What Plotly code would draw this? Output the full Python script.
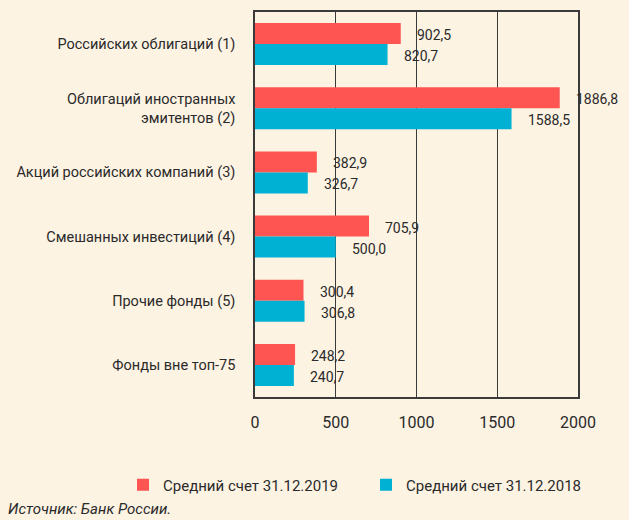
import plotly.graph_objects as go

categories = [
    "Российских облигаций (1)",
    "Облигаций иностранных<br>эмитентов (2)",
    "Акций российских компаний (3)",
    "Смешанных инвестиций (4)",
    "Прочие фонды (5)",
    "Фонды вне топ-75",
]
values_2019 = [902.5, 1886.8, 382.9, 705.9, 300.4, 248.2]
values_2018 = [820.7, 1588.5, 326.7, 500.0, 306.8, 240.7]
series_names = ["Средний счет 31.12.2019", "Средний счет 31.12.2018"]
x_ticks = [0, 500, 1000, 1500, 2000]

RED = "#fe5552"
BLUE = "#00b1d3"
BG = "#fdf3e3"
TXT = "#2a2a2a"
FONT = "Roboto"

W, H = 629, 520
ML, MR, MT, MB = 255, 51, 12, 123
PW, PH = W - ML - MR, H - MT - MB

fig = go.Figure()
fig.add_trace(go.Bar(y=categories, x=values_2019, orientation="h", name=series_names[0],
                     marker=dict(color=RED, line=dict(width=0))))
fig.add_trace(go.Bar(y=categories, x=values_2018, orientation="h", name=series_names[1],
                     marker=dict(color=BLUE, line=dict(width=0))))

def fmt(v):
    return f"{v:.1f}".replace(".", ",")

ann = []
for c, v in zip(categories, values_2019):
    ann.append(dict(x=v, y=c, xref="x", yref="y", text=fmt(v), showarrow=False,
                    xanchor="left", yanchor="middle", xshift=14, yshift=9,
                    font=dict(family=FONT, size=14, color=TXT)))
for c, v in zip(categories, values_2018):
    ann.append(dict(x=v, y=c, xref="x", yref="y", text=fmt(v), showarrow=False,
                    xanchor="left", yanchor="middle", xshift=14, yshift=-12,
                    font=dict(family=FONT, size=14, color=TXT)))
ann.append(dict(x=(6 - ML) / PW, y=-(509 - (H - MB)) / PH, xref="paper", yref="paper",
                text="<i>Источник: Банк России.</i>", showarrow=False,
                xanchor="left", yanchor="middle",
                font=dict(family=FONT, size=15, color=TXT)))

fig.update_layout(
    width=W, height=H,
    margin=dict(l=ML, r=MR, t=MT, b=MB, autoexpand=False),
    paper_bgcolor=BG, plot_bgcolor=BG,
    barmode="group", bargap=0.345, bargroupgap=0,
    font=dict(family=FONT, color=TXT),
    showlegend=True,
    legend=dict(orientation="h", xref="paper", yref="paper",
                x=(123 - ML) / PW, y=-(485 - (H - MB)) / PH,
                xanchor="left", yanchor="middle",
                font=dict(family=FONT, size=15, color=TXT),
                entrywidth=198, entrywidthmode="pixels",
                bgcolor="rgba(0,0,0,0)", traceorder="normal"),
    annotations=ann,
)

fig.update_xaxes(range=[0, 2000], tickvals=x_ticks, ticktext=[str(t) for t in x_ticks],
                 showgrid=True, gridcolor="#3a3a3a", gridwidth=1,
                 showline=True, linecolor="#3a3a3a", linewidth=1.5, mirror=True,
                 zeroline=False, ticks="", ticklabelstandoff=10, automargin=False,
                 tickfont=dict(family=FONT, size=16, color=TXT))
fig.update_yaxes(autorange="reversed", showgrid=False, automargin=False,
                 showline=True, linecolor="#3a3a3a", linewidth=1.5, mirror=True,
                 ticks="", ticklabelstandoff=15,
                 tickfont=dict(family=FONT, size=14.5, color=TXT))

fig.write_html("out.html", config={"displayModeBar": False},
               post_script="document.body.style.margin='0px';")
